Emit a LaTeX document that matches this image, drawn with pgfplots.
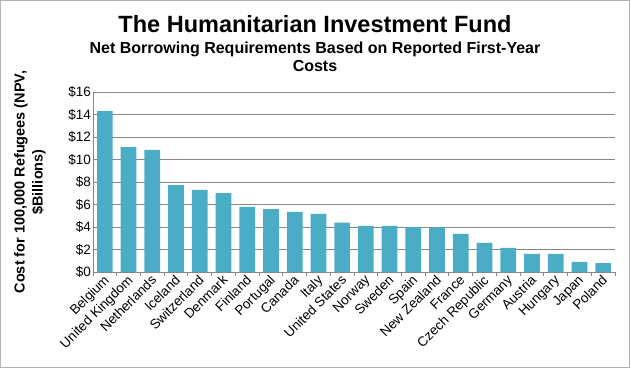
\documentclass[border=0pt]{standalone}
\usepackage{pgfplots}
\pgfplotsset{compat=1.18}
\usepackage{fontspec}
\setmainfont{Liberation Sans}
\definecolor{barc}{RGB}{75,172,198}
\definecolor{gridc}{RGB}{134,134,134}
\begin{document}
\begin{tikzpicture}
\draw[gray!60, line width=1pt] (-92.5pt,-95.5pt) rectangle (536.5pt,271.5pt);
\begin{axis}[
  at={(0,0)}, anchor=south west,
  width=522pt, height=180pt, scale only axis,
  xmin=-0.5, xmax=21.5, ymin=0, ymax=16,
  ytick={0,2,...,16},
  yticklabel={\$\pgfmathprintnumber{\tick}},
  /pgf/number format/assume math mode=true,
  ymajorgrids,
  grid style={gridc, line width=0.9pt},
  axis x line*=bottom, axis y line*=left,
  axis line style={gridc, line width=0.9pt},
  xtick={0,...,21},
  xticklabels={Belgium,United Kingdom,Netherlands,Iceland,Switzerland,Denmark,Finland,Portugal,Canada,Italy,United States,Norway,Sweden,Spain,New Zealand,France,Czech Republic,Germany,Austria,Hungary,Japan,Poland},
  major tick length=0pt,
  extra x ticks={-0.5,0.5,...,21.5},
  extra x tick labels={},
  extra x tick style={major tick length=4pt, tick align=outside, tick style={gridc, line width=0.9pt}},
  xticklabel style={xshift=-2pt, yshift=-2pt, rotate=45, anchor=north east, inner sep=0pt, font=\fontsize{13.5}{15}\selectfont},
  yticklabel style={font=\fontsize{13.5}{15}\selectfont, inner sep=2pt},
  ylabel={Cost for 100,000 Refugees (NPV,\\\$Billions)},
  every axis y label/.style={at={(axis description cs:-0.1207,0.5)}, rotate=90, anchor=center, align=center, font=\bfseries\fontsize{14.5}{18}\selectfont},
  tick style={gridc},
]
\addplot[ybar, bar width=15.7pt, fill=barc, draw=none] coordinates {
(0,14.3) (1,11.1) (2,10.85) (3,7.73) (4,7.3) (5,7.02) (6,5.8) (7,5.6) (8,5.35) (9,5.17) (10,4.38)
(11,4.1) (12,4.1) (13,4.0) (14,3.97) (15,3.38) (16,2.58) (17,2.14) (18,1.62) (19,1.62) (20,0.9) (21,0.8)
};
\end{axis}
\node[anchor=base, font=\bfseries\fontsize{23.5}{26}\selectfont] at (222pt,240pt) {The Humanitarian Investment Fund};
\node[anchor=base, font=\bfseries\fontsize{16}{18}\selectfont] at (222pt,219pt) {Net Borrowing Requirements Based on Reported First-Year};
\node[anchor=base, font=\bfseries\fontsize{16}{18}\selectfont] at (222pt,201pt) {Costs};
\end{tikzpicture}
\end{document}
